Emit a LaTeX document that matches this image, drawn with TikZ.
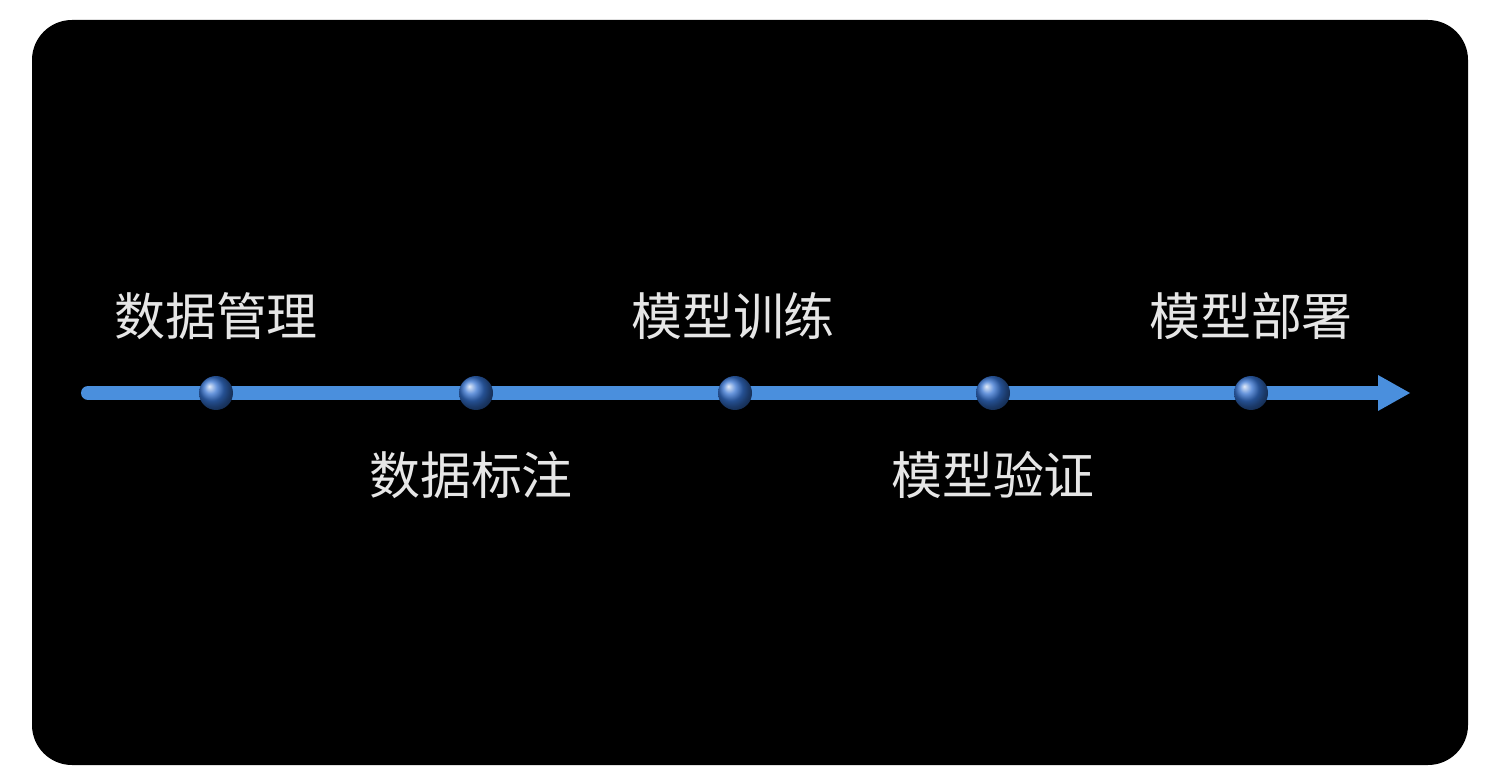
\documentclass[tikz,border=0pt]{standalone}
\usepackage{fontspec}
\newfontfamily\cjk{Noto Sans CJK SC}
\usetikzlibrary{positioning,shadings}
\definecolor{lineblue}{HTML}{4A8FDD}
\definecolor{dotblue}{HTML}{3572D0}
\definecolor{labelgray}{HTML}{E6E6E6}
\tikzset{
  stage/.style={circle, minimum size=0.68cm, inner sep=0pt, ball color=dotblue, shading=ball},
  label/.style={text=labelgray, font=\cjk\fontsize{29}{32}\selectfont, inner sep=0pt}
}
\begin{document}
\begin{tikzpicture}[x=0.02cm, y=-0.02cm]
\useasboundingbox (0,0) rectangle (1500,783);
\fill[white] (0,0) rectangle (1500,783);
\fill[black, rounded corners=0.8cm] (32,20) rectangle (1468,765);

% timeline
\coordinate (start) at (88,393);
\coordinate (tip) at (1382,393);
\draw[lineblue, line width=0.28cm, line cap=round] (start) -- (tip);
\fill[lineblue] (1378,375) -- (1410,393) -- (1378,411) -- cycle;

% stages
\node[stage] (s1) at (216,393) {};
\node[stage] (s2) at (476,393) {};
\node[stage] (s3) at (735,393) {};
\node[stage] (s4) at (993,393) {};
\node[stage] (s5) at (1251,393) {};

\node[label] (l1) at (216,316) {数据管理};
\node[label] (l2) at (471,475) {数据标注};
\node[label] (l3) at (733,316) {模型训练};
\node[label] (l4) at (993,475) {模型验证};
\node[label] (l5) at (1251,316) {模型部署};
\end{tikzpicture}
\end{document}
